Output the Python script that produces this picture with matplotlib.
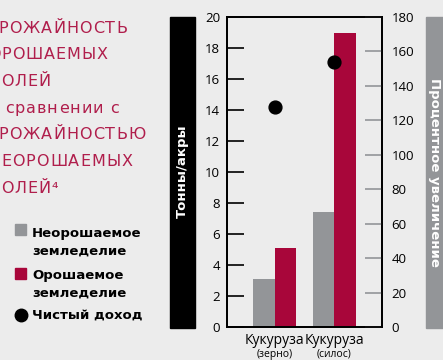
import matplotlib
matplotlib.use('Agg')
import matplotlib.pyplot as plt
from matplotlib.patches import Rectangle
from matplotlib.lines import Line2D

# yields (t/acre) and net income gain (%)
crops = ['Кукуруза', 'Кукуруза']
crop_notes = ['(зерно)', '(силос)']
dryland = [3.1, 7.4]
irrigated = [5.1, 19.0]
net_income = [128, 154]

title_lines = ['УРОЖАЙНОСТЬ', 'ОРОШАЕМЫХ', 'ПОЛЕЙ', 'в сравнении с',
               'УРОЖАЙНОСТЬЮ', 'НЕОРОШАЕМЫХ', 'ПОЛЕЙ⁴']
legend_labels = ['Неорошаемое\nземледелие', 'Орошаемое\nземледелие', 'Чистый доход']

bg = '#ececec'
gray = '#939598'
red = '#a8063a'
title_red = '#b01e4c'

W, H = 443, 360
fig = plt.figure(figsize=(W/100, H/100), dpi=100, facecolor=bg)

def fx(px):
    return px / W

def fy(py):
    return 1 - py / H

ax = fig.add_axes([fx(227), fy(327), fx(382) - fx(227), fy(17) - fy(327)])
ax.set_facecolor(bg)
ax2 = ax.twinx()

x = range(len(crops))
bw = 0.36
ax.bar([i - bw/2 for i in x], dryland, width=bw, color=gray, zorder=1)
ax.bar([i + bw/2 for i in x], irrigated, width=bw, color=red, zorder=1)
ax2.scatter(list(x), net_income, s=85, color='black', zorder=3)

ax.set_xlim(-0.8, 1.8)
ax.set_ylim(0, 20)
ax2.set_ylim(0, 180)
ax.set_yticks(range(0, 21, 2))
ax2.set_yticks(range(0, 181, 20))
ax.set_xticks([])

ax.tick_params(axis='y', direction='in', length=12, width=1.2, color='black', pad=5)
ax2.tick_params(axis='y', direction='in', length=12, width=1.2, color=gray, pad=7)
for lbl in ax.get_yticklabels() + ax2.get_yticklabels():
    lbl.set_fontfamily('Open Sans')
    lbl.set_fontsize(9.5)

for a in (ax, ax2):
    for s in a.spines.values():
        s.set_linewidth(1.3)
        s.set_color('black')

for i in x:
    ax.text(i, -0.4, crops[i], ha='center', va='top', fontsize=10,
            family='Open Sans', clip_on=False)
    ax.text(i, -1.4, crop_notes[i], ha='center', va='top', fontsize=7.5,
            family='Open Sans', clip_on=False)

# axis title boxes
fig.patches.append(Rectangle((fx(170), fy(328)), fx(195) - fx(170), fy(17) - fy(328),
                             transform=fig.transFigure, color='black'))
fig.text(fx(182.5), fy(171), 'Тонны/акры', rotation=90, ha='center', va='center',
         color='white', fontsize=9.5, fontweight='bold')
fig.patches.append(Rectangle((fx(426), fy(328)), fx(450) - fx(426), fy(17) - fy(328),
                             transform=fig.transFigure, color=gray))
fig.text(fx(435), fy(172), 'Процентное увеличение', rotation=-90, ha='center', va='center',
         color='white', fontsize=9.5, fontweight='bold')

# heading, drawn glyph by glyph to get wider letter spacing
renderer = fig.canvas.get_renderer()
tracking = 1.0
for k, line in enumerate(title_lines):
    ybase = fy(32.7 + k * 26.7)
    for j, ch in enumerate(line):
        prefix = fig.text(0, 0, line[:j] + '|', fontsize=11.5)
        bar_only = fig.text(0, 0, '|', fontsize=11.5)
        adv = prefix.get_window_extent(renderer).width - bar_only.get_window_extent(renderer).width
        prefix.remove()
        bar_only.remove()
        fig.text(fx(-12 + adv + j * tracking), ybase, ch, ha='left', va='baseline',
                 color=title_red, fontsize=11.5)

# legend
fig.patches.append(Rectangle((fx(15), fy(235)), fx(11), 11/H,
                             transform=fig.transFigure, color=gray))
fig.patches.append(Rectangle((fx(15), fy(279)), fx(11), 11/H,
                             transform=fig.transFigure, color=red))
fig.lines.append(Line2D([fx(20.5)], [fy(315)], marker='o', markersize=9,
                        color='black', transform=fig.transFigure))
for ypx, lab in zip([227, 269, 309], legend_labels):
    fig.text(fx(32), fy(ypx), lab, ha='left', va='top', fontsize=9.5,
             fontweight='bold', linespacing=1.45)

fig.savefig('out.png', dpi=100, facecolor=bg)
